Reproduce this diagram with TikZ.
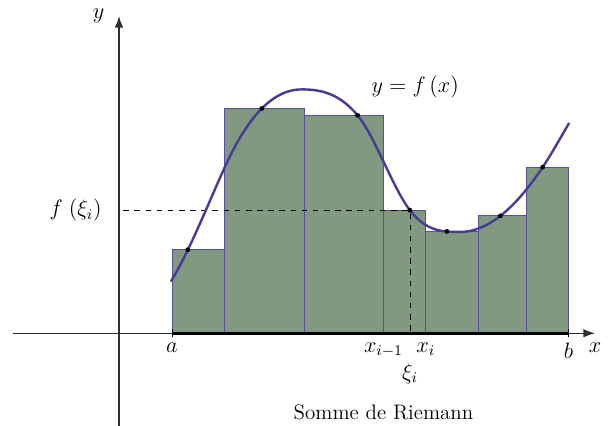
\documentclass[tikz,border=0pt]{standalone}
\usepackage{tikz}
\usetikzlibrary{arrows.meta,positioning}
\definecolor{moss}{RGB}{128,153,128}
\definecolor{indigo}{RGB}{88,78,158}
\definecolor{plum}{RGB}{70,60,150}
\definecolor{ink}{RGB}{45,45,45}
\tikzset{
  >={Latex[length=2.2mm,width=1.6mm]},
  axis/.style={->,thick,draw=ink},
  bar/.style={draw=indigo,fill=moss,thin},
  curve/.style={draw=plum,line width=1.3pt},
  guide/.style={dashed,thin,black},
  sample/.style={circle,fill=black,inner sep=0pt,minimum size=2.6pt},
  lbl/.style={font=\large,inner sep=2pt},
}
\begin{document}
\begin{tikzpicture}
  \useasboundingbox (-2.25,-1.74) rectangle (9.32,6.3);
  % rectangles
  \foreach \xl/\xr/\h in {1/2/1.58, 2/3.5/4.25, 3.5/5/4.12,
      5/5.8/2.325, 5.8/6.8/1.925, 6.8/7.7/2.22, 7.7/8.5/3.14}
    \filldraw[bar] (\xl,0) rectangle (\xr,\h);
  % axes
  \coordinate (O) at (0,0);
  \coordinate (xs) at (-2,0);
  \coordinate (xe) at (9,0);
  \coordinate (ys) at (0,-1.8);
  \coordinate (ye) at (0,6);
  \draw[axis] (xs) -- (xe);
  \draw[axis] (ys) -- (ye);
  \node[lbl,below=1mm of xe] (xl) {$x$};
  \node[lbl,left=2mm of ye] (yl) {$y$};
  % interval [a,b]
  \coordinate (a) at (1,0);
  \coordinate (b) at (8.5,0);
  \draw[line width=1.6pt] (a) -- (b);
  \draw[thin] (1,-0.08) -- (1,0.08) (8.5,-0.08) -- (8.5,0.08);
  \node[lbl,below=1mm of a] (al) {$a$};
  \node[lbl,below=1mm of b] (bl) {$b$};
  \node[lbl,below=1mm of {(5,0)}] (xim) {$x_{i-1}$};
  \node[lbl,below=1mm of {(5.8,0)}] (xi) {$x_i$};
  % xi_i and f(xi_i)
  \coordinate (P) at (5.5,2.325);
  \coordinate (Px) at (5.5,0);
  \coordinate (Py) at (0.08,2.325);
  \draw[guide] (Py) -- (P) -- (Px);
  \node[lbl,anchor=north] (xil) at (5.5,-0.5) {$\xi_i$};
  \node[lbl,anchor=east] (fl) at (-0.25,2.325) {$f\;(\xi_i)$};
  % function
  \draw[curve] (0.98,0.98) .. controls (1.32,1.524) and (1.66,2.392) .. (2,3.14)
    .. controls (2.483,4.203) and (2.967,4.61) .. (3.45,4.61)
    .. controls (3.803,4.61) and (4.157,4.544) .. (4.51,4.12)
    .. controls (4.84,3.724) and (5.17,2.754) .. (5.5,2.325)
    .. controls (5.817,1.913) and (6.133,1.915) .. (6.45,1.915)
    .. controls (6.97,1.915) and (7.49,2.36) .. (8.01,3.14)
    .. controls (8.177,3.39) and (8.343,3.692) .. (8.51,3.975);
  \foreach \s/\h in {1.3/1.58, 2.7/4.25, 4.51/4.12, 5.5/2.325, 6.2/1.925, 7.21/2.22, 8.01/3.14}
    \node[sample] at (\s,\h) {};
  \node[lbl] (fx) at (5.6,4.65) {$y=f\,(x)$};
  \node[font=\fontsize{11.3}{13}\selectfont] (cap) at (5,-1.5) {Somme de Riemann};
\end{tikzpicture}
\end{document}
